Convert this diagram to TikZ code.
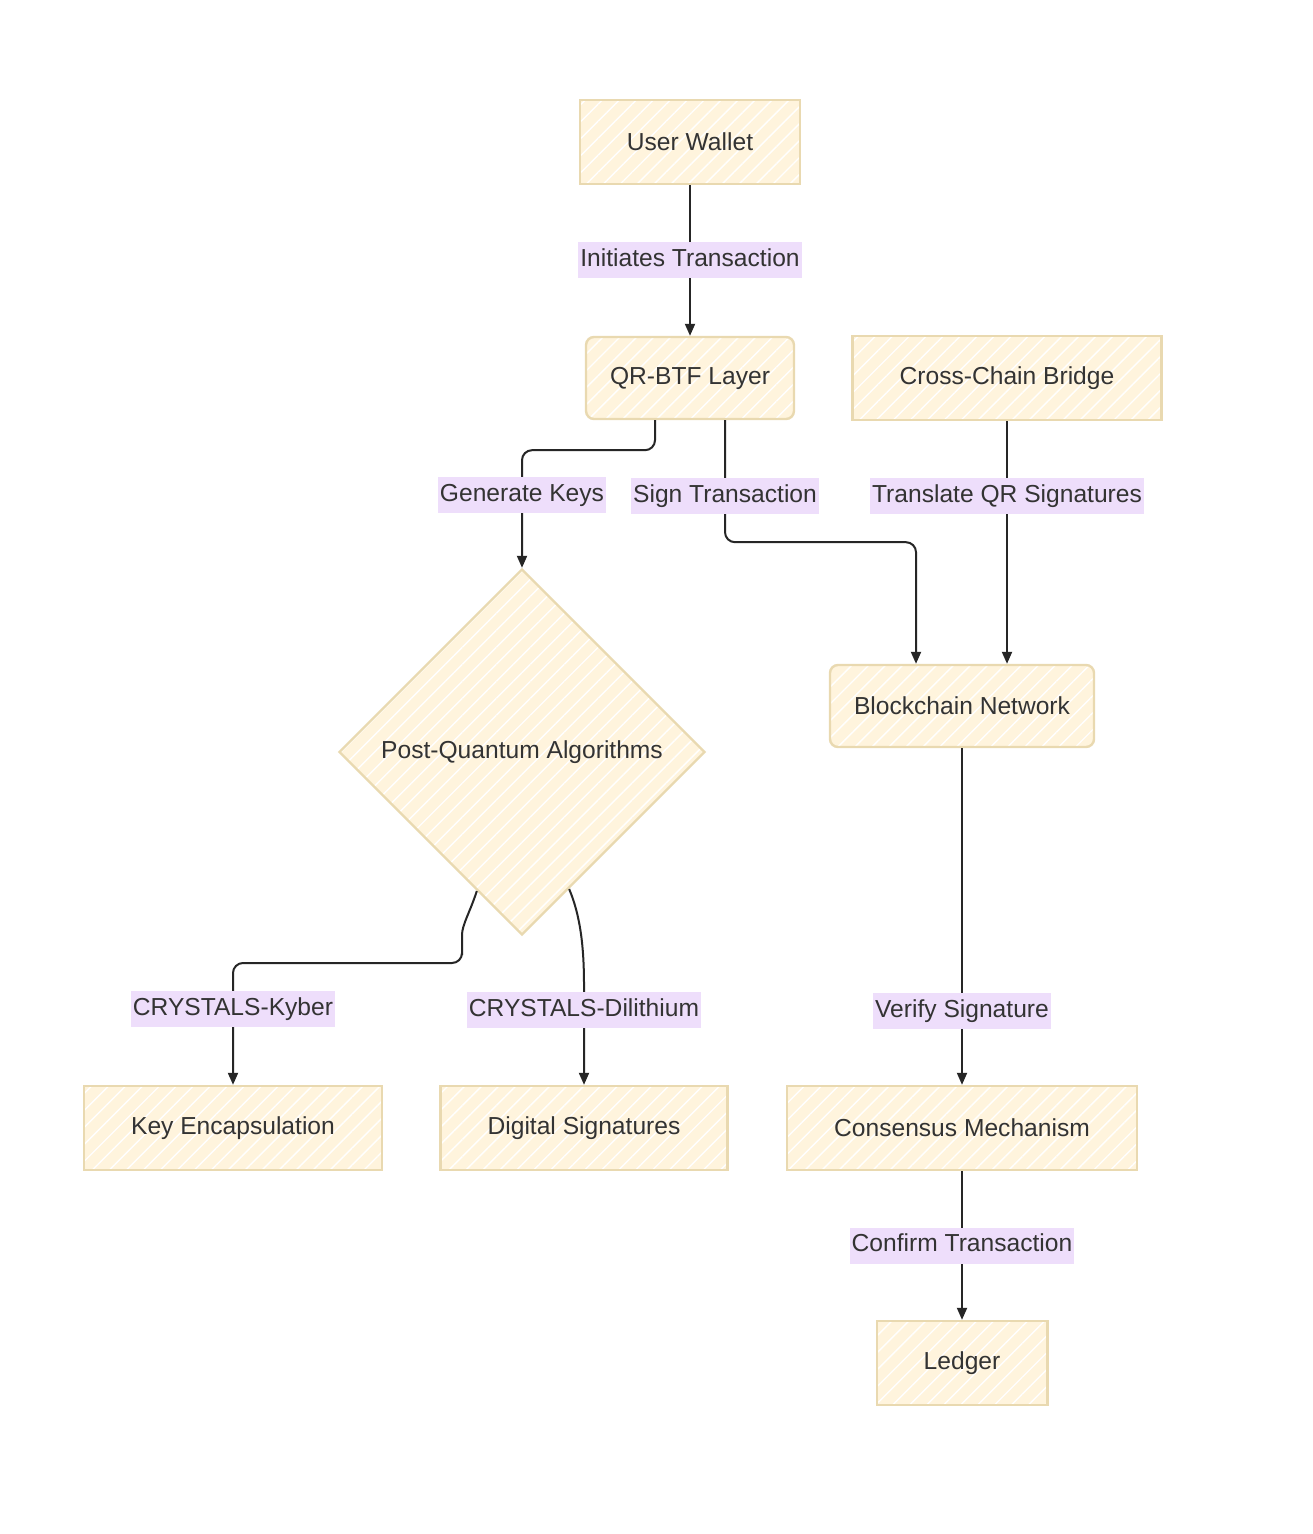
\documentclass[tikz,border=0pt]{standalone}
\usepackage{fontspec}
\setmainfont{Liberation Sans}
\usetikzlibrary{shapes.geometric,arrows.meta,calc,patterns.meta}
\definecolor{boxfill}{RGB}{255,244,221}
\definecolor{boxline}{RGB}{233,217,176}
\definecolor{lblfill}{RGB}{238,222,251}
\definecolor{ink}{RGB}{51,51,51}
\tikzset{every picture/.style={line width=1pt},
  hatch/.style={preaction={fill=boxfill},pattern={Lines[angle=45,distance=6pt,line width=0.7pt]},pattern color=white},
  box/.style={hatch,draw=boxline,line width=1.2pt,inner xsep=23.5pt,minimum height=42pt,text=ink,font=\fontsize{12.3}{14}\selectfont},
  roundbox/.style={box,inner xsep=12pt,minimum height=41pt,rounded corners=4pt},
  decision/.style={hatch,diamond,aspect=1,draw=boxline,line width=1.2pt,inner sep=0pt,minimum width=183pt,minimum height=183pt,text=ink,font=\fontsize{12.3}{14}\selectfont},
  lbl/.style={fill=lblfill,sharp corners,text=ink,font=\fontsize{12.3}{14}\selectfont,inner xsep=1pt,inner ysep=3.2pt,text height=9pt,text depth=2.6pt},
  edge/.style={draw=black!85,line width=1pt,-{Triangle[length=6pt,width=5pt]}}
}

\begin{document}
\begin{tikzpicture}[x=0.5pt,y=-0.5pt]
\fill[white] (0,0) rectangle (1312,1534);
\useasboundingbox (0,0) rectangle (1312,1534);

%Shape: Boxes
\node[box] (uw) at (690,142) {User Wallet};
\node[roundbox] (qr) at (690,378) {QR-BTF Layer};
\node[box] (cc) at (1007,378) {Cross-Chain Bridge};
\node[decision] (pqa) at (522,752) {Post-Quantum Algorithms};
\node[roundbox] (bc) at (962,706) {Blockchain Network};
\node[box] (ke) at (233,1128) {Key Encapsulation};
\node[box] (ds) at (584,1128) {Digital Signatures};
\node[box] (cm) at (962,1128) {Consensus Mechanism};
\node[box] (lg) at (962,1363) {Ledger};

%Straight Lines
\draw[edge] (uw) -- node[lbl]{Initiates Transaction} (qr);
\draw[edge] (cc.south) -- node[lbl,pos=0.31]{Translate QR Signatures} (cc.south |- bc.north);
\draw[edge] (bc) -- node[lbl,pos=0.78]{Verify Signature} (cm);
\draw[edge] (cm) -- node[lbl]{Confirm Transaction} (lg);

%Bent Lines
\draw[edge,rounded corners=5pt] ($(qr.south)+(-35,0)$) -- ++(0,30) -| node[lbl,pos=0.69]{Generate Keys} (pqa.north);
\draw[edge,rounded corners=5pt] ($(qr.south)+(35,0)$) -- node[lbl,pos=0.62]{Sign Transaction} ++(0,122) -| ($(bc.north)+(-46,0)$);

%Curve Lines
\draw[edge,rounded corners=5pt] (pqa.252) .. controls (470,912) and (462,925) .. (462,945) -- (462,963) -| node[lbl,pos=0.69]{CRYSTALS-Kyber} (ke.north);
\draw[edge] (pqa.289) .. controls (580,915) and (584,945) .. (584,985) -- node[lbl,pos=0.25]{CRYSTALS-Dilithium} (ds.north);

\end{tikzpicture}
\end{document}
